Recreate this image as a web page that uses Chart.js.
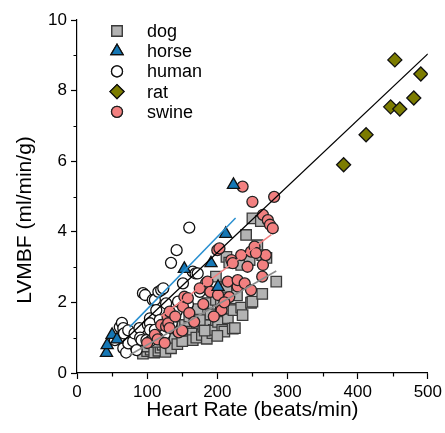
<!DOCTYPE html>
<html lang="en">
  <head>
    <meta charset="UTF-8" />
    <title>LVMBF vs heart rate</title>
    <script src="https://cdn.jsdelivr.net/npm/chart.js"></script>
    <style>
      body { margin: 0; background: #fff; }
      #wrap { width: 445px; height: 433px; }
    </style>
  </head>
  <body>
    <div id="wrap"><canvas id="myChart" width="445" height="433"></canvas></div>
    <script>
      // heart rate (beats/min), LVMBF (ml/min/g)
      var dog = [
        [94,0.55],[100,0.62],[105,0.66],[97,0.75],[110,0.58],[116,0.63],[119,0.72],[122,0.8],
        [113,0.88],[120,1.08],[130,0.92],[139,0.97],[146,1.31],[151,1.08],[154,1.36],[156,1.17],
        [159,1.02],[165,1.12],[165,0.93],[170,1.0],[172,1.81],[178,1.08],[180,1.31],[185,0.97],
        [186,1.98],[189,1.36],[190,1.66],[193,1.13],[195,1.22],[198,1.5],[198,2.07],[198,2.73],
        [201,1.45],[205,2.34],[207,1.22],[210,1.17],[213,2.44],[213,3.29],[217,3.13],[215,1.55],
        [220,1.82],[222,1.26],[223,1.78],[225,1.27],[229,3.11],[234,1.85],[234,3.06],[236,1.64],
        [241,3.91],[246,3.2],[248,1.99],[250,2.02],[250,4.38],[257,3.62],[262,4.3],[264,2.24],
        [264,3.34],[270,3.26],[284,2.59],[175,1.5],[160,1.6],[135,1.3],[205,1.95],[228,2.2],
        [126,0.6],[134,0.7],[143,0.82],[150,0.9],[182,1.2],[200,1.05]
      ];
      var horse = [
        [42,0.57],[43,0.79],[50,1.08],[57,0.95],[153,2.95],[191,3.11],[201,2.44],[212,3.94],[223,5.33]
      ];
      var human = [
        [54,0.93],[61,1.3],[64,1.42],[66,1.27],[67,1.12],[66,0.7],[70,0.58],[73,1.21],[73,0.84],
        [80,0.9],[82,1.12],[85,0.65],[89,1.27],[90,1.0],[92,0.93],[94,2.26],[97,2.21],[99,0.93],
        [101,1.36],[104,1.55],[104,1.41],[104,1.22],[104,0.9],[108,2.07],[111,2.07],[111,1.22],
        [113,1.78],[116,2.3],[118,1.5],[120,2.35],[123,2.4],[125,1.1],[127,1.97],[134,3.12],
        [135,1.4],[142,3.48],[142,1.74],[144,2.02],[151,2.54],[158,1.95],[160,4.12],[165,2.87],
        [169,2.82],[172,2.82],[175,2.3],[184,2.55],[130,1.6],[115,1.0]
      ];
      var rat = [
        [380,5.9],[412,6.75],[447,7.54],[453,8.87],[460,7.48],[480,7.79],[490,8.47]
      ];
      var swine = [
        [100,0.85],[111,1.08],[115,0.95],[120,1.36],[125,0.85],[127,1.32],[129,1.6],[130,1.41],
        [132,1.27],[132,1.74],[140,1.6],[145,1.15],[150,1.2],[151,1.88],[153,2.16],[158,2.12],
        [160,1.7],[167,1.45],[175,2.4],[180,1.95],[186,2.59],[190,2.3],[200,3.48],[201,2.21],
        [203,3.53],[205,1.83],[206,1.78],[215,2.59],[217,2.15],[220,3.2],[222,3.11],[229,2.45],
        [229,2.63],[234,3.34],[236,5.28],[239,2.54],[243,3.01],[248,2.35],[248,3.44],[250,4.85],
        [253,3.58],[264,2.73],[265,3.06],[265,4.48],[269,3.34],[272,4.33],[275,4.2],[279,4.1],
        [281,4.99],[255,3.4],[210,2.0],[195,1.6]
      ];

      // regression lines: start and end
      var fitAll = [[65,0.88],[500,9.04]];
      var fitHorse = [[75,1.3],[226,4.39]];
      var fitSwine = [[120,1.61],[277,3.92]];
      var fitDog = [[75,0.51],[284,2.89]];

      var xTicks = [0, 100, 200, 300, 400, 500];
      var yTicks = [0, 2, 4, 6, 8, 10];

      var species = [
        { label: "dog", data: dog, style: "rect", radius: 7.4, fill: "#b3b3b3", border: "#3a3a3a" },
        { label: "horse", data: horse, style: "triangle", radius: 7, fill: "#1577b5", border: "#111" },
        { label: "human", data: human, style: "circle", radius: 5.5, fill: "#ffffff", border: "#111" },
        { label: "rat", data: rat, style: "rectRot", radius: 7, fill: "#7c7c00", border: "#111" },
        { label: "swine", data: swine, style: "circle", radius: 5.5, fill: "#f28080", border: "#222" }
      ];

      function pts(arr) {
        return arr.map(function (p) { return { x: p[0], y: p[1] }; });
      }

      function fitLine(arr, color, width) {
        return {
          type: "line",
          data: pts(arr),
          borderColor: color,
          borderWidth: width,
          pointRadius: 0,
          fill: false,
          showLine: true
        };
      }

      var datasets = [
        fitLine(fitAll, "#000000", 1.3),
        fitLine(fitHorse, "#2a90d0", 1.5),
        fitLine(fitSwine, "#f28080", 1.5),
        fitLine(fitDog, "#8c8c8c", 1.5)
      ];
      // draw order: horse on top, then swine, human, dog, rat
      [1, 4, 2, 0, 3].forEach(function (i) {
        var s = species[i];
        datasets.push({
          type: "scatter",
          label: s.label,
          data: pts(s.data),
          pointStyle: s.style,
          pointRadius: s.radius,
          pointHoverRadius: s.radius,
          pointBackgroundColor: s.fill,
          pointBorderColor: s.border,
          pointBorderWidth: 1.3
        });
      });

      var font = "'Liberation Sans', Arial, sans-serif";

      var extras = {
        id: "extras",
        afterDraw: function (chart) {
          var ctx = chart.ctx;
          var xs = chart.scales.x, ys = chart.scales.y;
          var area = chart.chartArea;
          ctx.save();
          ctx.strokeStyle = "#000";
          ctx.lineWidth = 1.2;
          ctx.beginPath();
          for (var v = 50; v < 500; v += 100) {
            var px = Math.round(xs.getPixelForValue(v)) + 0.5;
            ctx.moveTo(px, area.bottom);
            ctx.lineTo(px, area.bottom + 3.5);
          }
          for (var w = 1; w < 10; w += 2) {
            var py = Math.round(ys.getPixelForValue(w)) + 0.5;
            ctx.moveTo(area.left, py);
            ctx.lineTo(area.left - 3.5, py);
          }
          ctx.stroke();

          // y axis title, centred on the figure height like the original
          ctx.save();
          ctx.translate(25, 220);
          ctx.rotate(-Math.PI / 2);
          ctx.font = "21px " + font;
          ctx.textAlign = "center";
          ctx.textBaseline = "middle";
          ctx.fillStyle = "#000";
          ctx.fillText("LVMBF (ml/min/g)", 0, 0);
          ctx.restore();

          // legend
          ctx.font = "18px " + font;
          ctx.textBaseline = "middle";
          ctx.textAlign = "left";
          species.forEach(function (s, i) {
            var y = 31 + i * 20.2;
            ctx.fillStyle = s.fill;
            ctx.strokeStyle = s.border;
            ctx.lineWidth = 1.3;
            Chart.helpers.drawPoint(ctx, { pointStyle: s.style, radius: s.radius, borderWidth: 1.3 }, 117, y);
            ctx.fill();
            ctx.stroke();
            ctx.fillStyle = "#000";
            ctx.fillText(s.label, 147, y + 1);
          });
          ctx.restore();
        }
      };

      new Chart(document.getElementById("myChart").getContext("2d"), {
        type: "scatter",
        data: { datasets: datasets },
        options: {
          responsive: false,
          animation: false,
          events: [],
          layout: { padding: { top: 20, right: 16, left: 0, bottom: 0 } },
          plugins: { legend: { display: false }, tooltip: { enabled: false } },
          scales: {
            x: {
              type: "linear",
              min: 0,
              max: 500,
              afterBuildTicks: function (scale) {
                scale.ticks = xTicks.map(function (v) { return { value: v }; });
              },
              afterFit: function (scale) { scale.height = 60; },
              ticks: { color: "#000", font: { family: font, size: 17 }, padding: 3, maxRotation: 0 },
              grid: { drawOnChartArea: false, drawTicks: true, tickLength: 6, tickColor: "#000", tickWidth: 1.2 },
              border: { display: true, color: "#000", width: 1.2 },
              title: {
                display: true,
                text: "Heart Rate (beats/min)",
                color: "#000",
                font: { family: font, size: 21 },
                padding: { top: 0, bottom: 10 }
              }
            },
            y: {
              type: "linear",
              min: 0,
              max: 10,
              afterBuildTicks: function (scale) {
                scale.ticks = yTicks.map(function (v) { return { value: v }; });
              },
              afterFit: function (scale) { scale.width = 77; },
              ticks: { color: "#000", font: { family: font, size: 17 }, padding: 4 },
              grid: { drawOnChartArea: false, drawTicks: true, tickLength: 6, tickColor: "#000", tickWidth: 1.2 },
              border: { display: true, color: "#000", width: 1.2 }
            }
          }
        },
        plugins: [extras]
      });
    </script>
  </body>
</html>
